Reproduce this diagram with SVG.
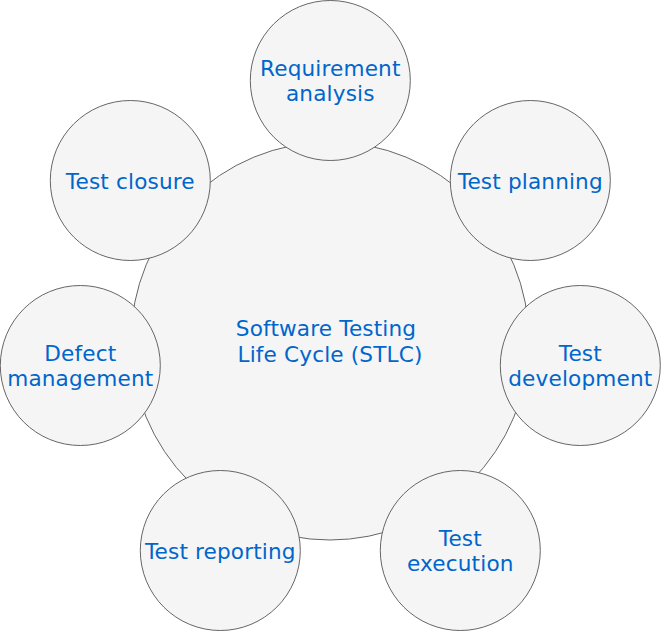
<svg xmlns="http://www.w3.org/2000/svg" width="661" height="631" viewBox="0 0 661 631">
<style>
.c{fill:#f5f5f5;stroke:#666666;stroke-width:1}
.t{font-family:"DejaVu Sans",Verdana,sans-serif;font-size:21.6px;letter-spacing:0.15px;fill:#0066cc;text-anchor:middle}
</style>
<rect width="661" height="631" fill="#ffffff"/>
<g id="connectors"></g>
<g id="stlc">
<circle class="c" cx="330" cy="341" r="199"/>
<text class="t" x="326" y="336">Software Testing</text>
<text class="t" x="330" y="362">Life Cycle (STLC)</text>
</g>
<g id="requirement-analysis">
<circle class="c" cx="330.3" cy="80.5" r="80"/>
<text class="t" x="330.3" y="76">Requirement</text>
<text class="t" x="330.3" y="101">analysis</text>
</g>
<g id="test-planning">
<circle class="c" cx="530.3" cy="180.5" r="80"/>
<text class="t" x="530.3" y="188.5">Test planning</text>
</g>
<g id="test-development">
<circle class="c" cx="580.3" cy="365.5" r="80"/>
<text class="t" x="580.3" y="361">Test</text>
<text class="t" x="580.3" y="386">development</text>
</g>
<g id="test-execution">
<circle class="c" cx="460.3" cy="550.5" r="80"/>
<text class="t" x="460.3" y="546">Test</text>
<text class="t" x="460.3" y="571">execution</text>
</g>
<g id="test-reporting">
<circle class="c" cx="220.3" cy="550.5" r="80"/>
<text class="t" x="220.3" y="558.5">Test reporting</text>
</g>
<g id="defect-management">
<circle class="c" cx="80.3" cy="365.5" r="80"/>
<text class="t" x="80.3" y="361">Defect</text>
<text class="t" x="80.3" y="386">management</text>
</g>
<g id="test-closure">
<circle class="c" cx="130.3" cy="180.5" r="80"/>
<text class="t" x="130.3" y="188.5">Test closure</text>
</g>
</svg>
